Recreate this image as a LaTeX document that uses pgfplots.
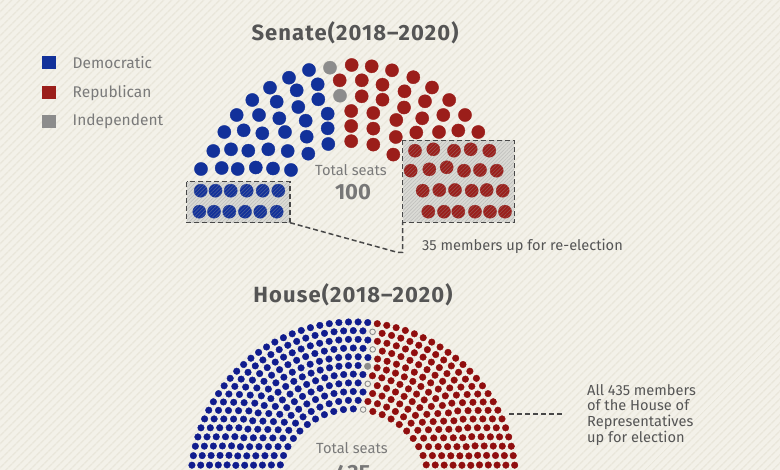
\documentclass[border=0pt]{standalone}
\usepackage{pgfplots}
\pgfplotsset{compat=1.18}
\usepackage{fontspec}
\setmainfont{Fira Sans}
\usetikzlibrary{patterns.meta}
\definecolor{bg}{HTML}{F3F1E9}
\definecolor{stripe}{HTML}{E9E6DA}
\definecolor{sdem}{HTML}{12319A}
\definecolor{srep}{HTML}{9B1E1A}
\definecolor{sind}{HTML}{8C8C8C}
\definecolor{hdem}{HTML}{101C8E}
\definecolor{hrep}{HTML}{900E0E}
\definecolor{txt}{HTML}{555555}
\definecolor{txtl}{HTML}{7A7A7A}
\definecolor{boxg}{HTML}{DADAD5}
% house row: radius, seats in row, first seat, last seat, style
\newcommand{\hseats}[5]{%
  \addplot[#5, samples at={#3,...,#4}] ({353.3+#1*cos(x*180/(#2-1))},{484.4-#1*sin(x*180/(#2-1))});
}
\begin{document}
\begin{tikzpicture}
\begin{axis}[scale only axis, width=780bp, height=470bp,
  xmin=0, xmax=780, ymin=0, ymax=470, y dir=reverse,
  hide axis, clip marker paths=true,
  hd/.style={only marks, mark=*, mark size=3.3, hdem},
  hr/.style={only marks, mark=*, mark size=3.3, hrep},
  hv/.style={only marks, mark=*, mark size=2.8, mark options={draw=sind, fill=bg, line width=0.9bp}},
  hg/.style={only marks, mark=*, mark size=3.3, sind},
]
\coordinate (A) at (axis cs:0,470);
\coordinate (B) at (axis cs:780,0);
% background
\fill[bg] (axis cs:0,0) rectangle (axis cs:780,470);
\fill[pattern={Lines[angle=45,distance=6bp,line width=1.6bp]}, pattern color=stripe] (axis cs:0,0) rectangle (axis cs:780,470);

% titles
\node[font=\fontsize{22bp}{26bp}\selectfont\bfseries\addfontfeature{LetterSpace=5}, text=txt] at (axis cs:355,33) {Senate(2018--2020)};
\node[font=\fontsize{22bp}{26bp}\selectfont\bfseries\addfontfeature{LetterSpace=5}, text=txt] at (axis cs:353,295) {House(2018--2020)};

% legend
\fill[sdem] (axis cs:42,56.5) rectangle (axis cs:55.5,69.5);
\fill[srep] (axis cs:42,86.5) rectangle (axis cs:55.5,99.5);
\fill[sind] (axis cs:42,115) rectangle (axis cs:55.5,128);
\node[anchor=west, inner sep=0, font=\fontsize{15.5bp}{18bp}\selectfont, text=txtl] at (axis cs:72.5,63) {Democratic};
\node[anchor=west, inner sep=0, font=\fontsize{15.5bp}{18bp}\selectfont, text=txtl] at (axis cs:72.5,93) {Republican};
\node[anchor=west, inner sep=0, font=\fontsize{15.5bp}{18bp}\selectfont, text=txtl] at (axis cs:72.5,121.5) {Independent};

% senate boxes (fill)
\fill[boxg] (axis cs:186.7,181.7) rectangle (axis cs:290,222.7);
\fill[boxg] (axis cs:402.7,140.3) rectangle (axis cs:514.3,222.5);

% senate seats
\addplot[only marks, mark=*, mark size=6.6, sdem] coordinates {
(309,70) (289,77.7) (317.7,84.3) (270,87.7) (296.7,90.3) (318.3,99.3) (252.3,100)
(276.7,101.7) (298.3,107) (327.7,113.7) (236.7,115) (259,115) (279.3,118.3)
(305.7,120.7) (327.7,128.3) (224.3,132) (243.7,130.3) (262.3,133.3) (285,132)
(306.7,136.7) (328.3,144) (213.3,151) (231,149.3) (248.3,150.7) (268.3,149.3)
(287.7,151) (308.3,153.7)
(201,169) (221.7,168) (237.7,169) (255.8,167.5) (273,168.5) (291,170)
(200.7,190.7) (215.5,190.7) (230.7,190.7) (246.7,190.7) (262.7,190.7) (278.3,190.7)
(199.3,211.7) (214,211.7) (229.3,211.7) (245,211.7) (260.3,211.7) (276.7,211.7)
};
\addplot[only marks, mark=*, mark size=6.6, sind] coordinates {(330,67.7) (340,95.7)};
\addplot[only marks, mark=*, mark size=6.6, srep] coordinates {
(351.7,65) (371.7,66.3) (392,70.3) (339.7,80.3) (361.8,80.3) (413.3,77.2) (382.5,84.7)
(432,87.5) (361.7,96.3) (404.5,91.3) (382.5,99.7) (425,101.3) (449.2,100)
(351.2,111) (404,107.5) (373.3,113) (422.2,118.3) (443.3,115) (465,115)
(351.2,126) (396.3,120) (373.3,128.6) (416.3,132.5) (439,132) (458.3,130.5)
(478.3,132) (351.2,141.2) (395.8,137) (373.3,144.6) (393.3,154.6)
(415,150.7) (433.3,149.3) (454,150.7) (470.7,149.3) (489.3,150.7)
(410.7,170.7) (429.3,169.3) (446.7,167.3) (464,170.7) (480,170) (496.7,170.7)
(422.7,190.7) (439.3,190) (455,190) (471.7,190.7) (486.7,190) (502.7,190.7)
(428.3,211.7) (444,211.7) (458.3,211.7) (475,211.7) (490,211.7) (505,211.7)
};

% hatch over boxes and dashed frames
\fill[pattern={Lines[angle=45,distance=2.6bp,line width=0.5bp]}, pattern color=gray!80, opacity=0.45] (axis cs:186.7,181.7) rectangle (axis cs:290,222.7);
\fill[pattern={Lines[angle=45,distance=2.6bp,line width=0.5bp]}, pattern color=gray!80, opacity=0.45] (axis cs:402.7,140.3) rectangle (axis cs:514.3,222.5);
\draw[txt!85!black, line width=1.5bp, dash pattern=on 5bp off 3bp] (axis cs:186.7,181.7) rectangle (axis cs:290,222.7);
\draw[txt!85!black, line width=1.5bp, dash pattern=on 5bp off 3bp] (axis cs:402.7,140.3) rectangle (axis cs:514.3,222.5);
\draw[txt!85!black, line width=1.5bp, dash pattern=on 5bp off 3bp] (axis cs:290,222.7) -- (axis cs:398,252.5) -- (axis cs:402.7,252.5) -- (axis cs:402.7,222.5);

% senate centre labels
\node[font=\fontsize{14.7bp}{17bp}\selectfont, text=txtl] at (axis cs:351,170) {Total seats};
\node[font=\fontsize{22bp}{26bp}\selectfont\bfseries, text=txt!80!white] at (axis cs:353,192) {100};
\node[anchor=west, inner sep=0, font=\fontsize{14.6bp}{17bp}\selectfont, text=txt] at (axis cs:422,246) {35 members up for re-election};

% house seats: rows from inside out
\hseats{75.5}{25}{0}{10}{hr}  \hseats{75.5}{25}{11}{11}{hv}  \hseats{75.5}{25}{12}{24}{hd}
\hseats{84.2}{28}{0}{12}{hr}  \hseats{84.2}{28}{13}{27}{hd}
\hseats{92.9}{31}{0}{13}{hr}  \hseats{92.9}{31}{14}{30}{hd}
\hseats{101.6}{34}{0}{14}{hr} \hseats{101.6}{34}{15}{15}{hv} \hseats{101.6}{34}{16}{33}{hd}
\hseats{110.3}{37}{0}{16}{hr} \hseats{110.3}{37}{17}{36}{hd}
\hseats{119.0}{40}{0}{17}{hr} \hseats{119.0}{40}{18}{18}{hg} \hseats{119.0}{40}{19}{39}{hd}
\hseats{127.7}{42}{0}{18}{hr} \hseats{127.7}{42}{19}{41}{hd}
\hseats{136.4}{45}{0}{19}{hr} \hseats{136.4}{45}{20}{20}{hv} \hseats{136.4}{45}{21}{44}{hd}
\hseats{145.1}{48}{0}{21}{hr} \hseats{145.1}{48}{22}{47}{hd}
\hseats{153.8}{51}{0}{22}{hr} \hseats{153.8}{51}{23}{23}{hv} \hseats{153.8}{51}{24}{50}{hd}
\hseats{162.5}{54}{0}{24}{hr} \hseats{162.5}{54}{25}{53}{hd}

% house labels
\node[font=\fontsize{14.7bp}{17bp}\selectfont, text=txtl] at (axis cs:352,448.5) {Total seats};
\node[font=\fontsize{22bp}{26bp}\selectfont\bfseries, text=txt!80!white] at (axis cs:353,473) {435};
\draw[txt!85!black, line width=1.5bp, dash pattern=on 5bp off 3bp] (axis cs:509,414) -- (axis cs:564,414);
\node[anchor=north west, align=left, inner sep=0, font=\fontsize{14.6bp}{15.8bp}\selectfont, text=txt] at (axis cs:587,384) {All 435 members\\of the House of\\Representatives\\up for election};
\end{axis}
\pgfresetboundingbox
\path[use as bounding box] (A) rectangle (B);
\end{tikzpicture}
\end{document}
